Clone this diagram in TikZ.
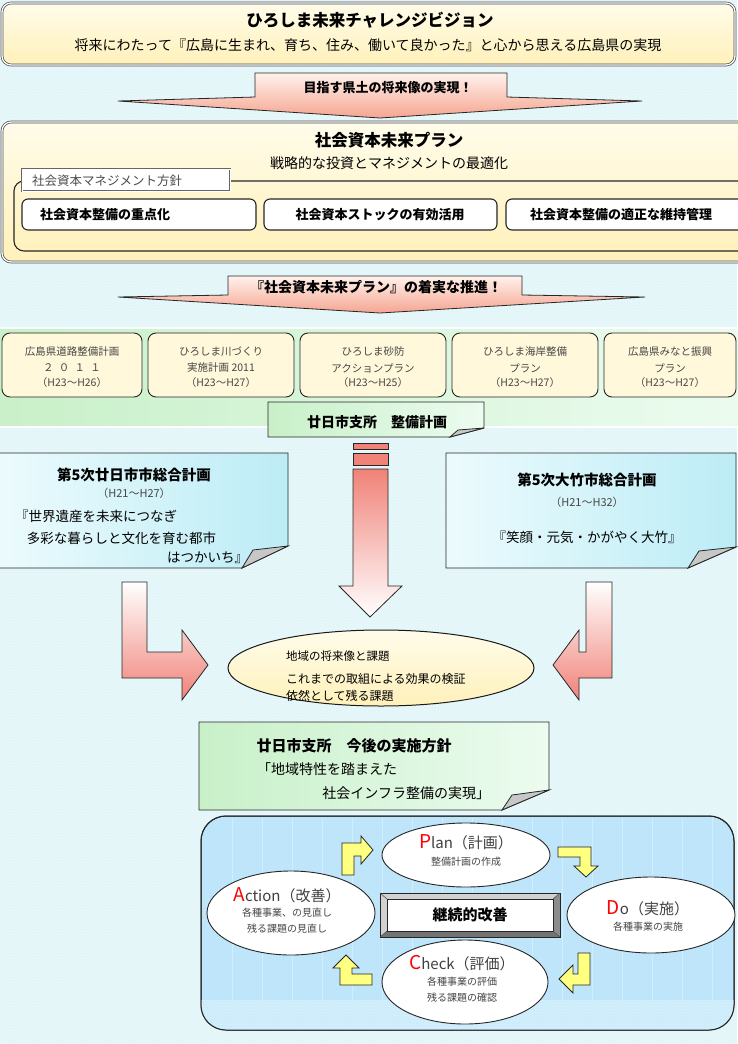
\documentclass[tikz,border=0pt]{standalone}
\usepackage{fontspec}
\setmainfont{Noto Sans CJK JP}
\usetikzlibrary{patterns,shapes.geometric}
\definecolor{bgc}{RGB}{230,247,250}
\definecolor{bgdot}{RGB}{212,238,243}
\definecolor{ylwA}{RGB}{255,252,234}
\definecolor{ylwB}{RGB}{255,241,186}
\definecolor{pinkA}{RGB}{255,242,236}
\definecolor{pinkB}{RGB}{245,165,145}
\definecolor{salm}{RGB}{240,130,120}
\definecolor{grnA}{RGB}{200,240,200}
\definecolor{grnB}{RGB}{236,252,240}
\definecolor{cyA}{RGB}{236,251,253}
\definecolor{cyB}{RGB}{188,236,246}
\definecolor{boxY}{RGB}{255,248,218}
\definecolor{panelc}{RGB}{190,229,249}
\definecolor{panell}{RGB}{208,238,252}
\definecolor{yarrc}{RGB}{255,255,128}
\definecolor{txtg}{RGB}{70,70,70}
\newcommand\fsz[1]{\fontsize{#1}{#1}\selectfont}
\tikzset{
  bigbox/.style={draw=black!70, line width=0.7pt, double=white, double distance=1.3pt,
    rounded corners=9pt, top color=ylwA, bottom color=ylwB},
  pinkarrow/.style={draw=black!85, line width=0.8pt, top color=pinkA, bottom color=pinkB},
  tabbox/.style={draw=black!60, line width=0.6pt, double=white, double distance=1pt, fill=white},
  polbox/.style={draw=black!85, line width=1.1pt, rounded corners=6pt, fill=white},
  planbox/.style={draw=black!85, line width=0.9pt, rounded corners=8pt, fill=boxY},
  greennote/.style={draw=black!85, line width=0.9pt, left color=grnA, right color=grnB},
  cyannote/.style={draw=black!85, line width=0.9pt, left color=cyA, right color=cyB},
  fold/.style={draw=black!85, line width=0.8pt, fill=black!22},
  larrow/.style={draw=black!85, line width=0.8pt, top color=white, bottom color=salm},
  cyc/.style={ellipse, draw=black!85, line width=0.9pt, fill=white},
  yarr/.style={draw=black!85, line width=0.8pt, fill=yarrc, line join=miter},
  pl/.style={font=\fsz{10.5}, text=txtg},
  sub/.style={font=\fsz{10}, text=txtg},
}
\begin{document}
\begin{tikzpicture}[x=1pt,y=-1pt, every node/.style={inner sep=0pt, outer sep=0pt}]
\useasboundingbox (0,0) rectangle (737,1044);
\fill[bgc] (0,0) rectangle (737,1044);
\fill[pattern=dots, pattern color=bgdot] (0,0) rectangle (737,1044);

% ---------- top vision box
\node (top) [bigbox, minimum width=733pt, minimum height=62pt, anchor=north west] at (2,3) {};
\node (toptitle) at (370,20) {\fsz{16.5}\bfseries ひろしま未来チャレンジビジョン};
\node (topsub) at (368,45) {\fsz{14}将来にわたって『広島に生まれ、育ち、住み、働いて良かった』と心から思える広島県の実現};

% ---------- arrow 1
\draw[pinkarrow] (255,73) -- (507,73) -- (507,97) -- (642,101) -- (380,118) -- (118,101) -- (255,97) -- cycle;
\node (a1t) at (388,88) {\fsz{13}\bfseries 目指す県土の将来像の実現！};

% ---------- social capital plan
\node (soc) [bigbox, minimum width=745pt, minimum height=140pt, anchor=north west] at (2,122) {};
\node (soctitle) at (389,140) {\fsz{16.5}\bfseries 社会資本未来プラン};
\node (socsub) at (389,163) {\fsz{14}戦略的な投資とマネジメントの最適化};
\draw[draw=black!85, line width=1.1pt, rounded corners=10pt] (14,181) rectangle (760,251);
\node (tab) [tabbox, minimum width=208pt, minimum height=22pt, anchor=north west] at (22,169) {};
\node (tabt) [anchor=west, text=black!70] at (32,180.5) {\fsz{12.5}社会資本マネジメント方針};
\node (b1) [polbox, minimum width=234pt, minimum height=31pt, anchor=north west] at (22,199) {};
\node (b2) [polbox, minimum width=233pt, minimum height=31pt, anchor=north west] at (264,199) {};
\node (b3) [polbox, minimum width=240pt, minimum height=31pt, anchor=north west] at (506,199) {};
\node (b1t) [anchor=west] at (40,215) {\fsz{13}\bfseries 社会資本整備の重点化};
\node (b2t) at (380,215) {\fsz{13}\bfseries 社会資本ストックの有効活用};
\node (b3t) at (621,215) {\fsz{13}\bfseries 社会資本整備の適正な維持管理};

% ---------- arrow 2
\draw[pinkarrow] (228,276) -- (522,276) -- (522,295) -- (645,297) -- (380,313) -- (118,297) -- (228,295) -- cycle;
\node (a2t) at (376,287) {\fsz{14}\bfseries 『社会資本未来プラン』の着実な推進！};

% ---------- green band with plans
\node (band) [draw=black!75, line width=0.7pt, double=white, double distance=1.3pt,
  left color=grnA, right color=grnB, minimum width=760pt, minimum height=99pt, anchor=north west] at (-10,328) {};
\node (p1) [planbox, minimum width=140pt, minimum height=64pt, anchor=north west] at (2,333) {};
\node (p2) [planbox, minimum width=146pt, minimum height=64pt, anchor=north west] at (148,333) {};
\node (p3) [planbox, minimum width=146pt, minimum height=64pt, anchor=north west] at (300,333) {};
\node (p4) [planbox, minimum width=146pt, minimum height=64pt, anchor=north west] at (452,333) {};
\node (p5) [planbox, minimum width=132pt, minimum height=64pt, anchor=north west] at (604,333) {};
\node (p1a) [pl] at (72,352) {広島県道路整備計画};
\node (p1b) [pl] at (72,368) {２\enspace ０\enspace １\enspace １};
\node (p1c) [pl] at (72,383) {（H23～H26）};
\node (p2a) [pl] at (221,352) {ひろしま川づくり};
\node (p2b) [pl] at (221,368) {実施計画 2011};
\node (p2c) [pl] at (221,383) {（H23～H27）};
\node (p3a) [pl] at (373,352) {ひろしま砂防};
\node (p3b) [pl] at (373,368) {アクションプラン};
\node (p3c) [pl] at (373,383) {（H23～H25）};
\node (p4a) [pl] at (525,352) {ひろしま海岸整備};
\node (p4b) [pl] at (525,368) {プラン};
\node (p4c) [pl] at (525,383) {（H23～H27）};
\node (p5a) [pl] at (670,352) {広島県みなと振興};
\node (p5b) [pl] at (670,368) {プラン};
\node (p5c) [pl] at (670,383) {（H23～H27）};

% ---------- note: seibi keikaku
\draw[greennote] (268,402) -- (484,402) -- (484,428) -- (450,437) -- (268,437) -- cycle;
\draw[fold] (450,437) -- (458,430) -- (484,428) -- cycle;
\node (g1t) at (377,422) {\fsz{14}\bfseries 廿日市支所　整備計画};

% ---------- centre arrow
\draw[draw=black!85, line width=0.8pt, fill=salm] (353,443) rectangle (388,449);
\draw[draw=black!85, line width=0.8pt, fill=salm] (353,453) rectangle (388,465);
\draw[draw=black!85, line width=0.8pt, top color=salm, bottom color=white]
  (353,469) -- (388,469) -- (388,586) -- (402,586) -- (370,617) -- (339,586) -- (353,586) -- cycle;

% ---------- left note
\draw[cyannote] (-2,453) -- (288,453) -- (288,546) -- (242,568) -- (-2,568) -- cycle;
\draw[fold] (242,568) -- (253,550) -- (288,546) -- cycle;
\node (n1t) at (134,475) {\fsz{14.5}\bfseries 第5次廿日市市総合計画};
\node (n1p) [sub] at (134,493) {\fsz{11}（H21～H27）};
\node (n1a) [anchor=west] at (15,516) {\fsz{13.5}『世界遺産を未来につなぎ};
\node (n1b) [anchor=west] at (27,538) {\fsz{13.5}多彩な暮らしと文化を育む都市};
\node (n1c) [anchor=east] at (248,558) {\fsz{13.5}はつかいち』};

% ---------- right note
\draw[cyannote] (446,453) -- (736,453) -- (736,547) -- (688,568) -- (446,568) -- cycle;
\draw[fold] (688,568) -- (699,551) -- (736,547) -- cycle;
\node (n2t) at (587,480) {\fsz{14.5}\bfseries 第5次大竹市総合計画};
\node (n2p) [sub] at (587,502) {\fsz{11}（H21～H32）};
\node (n2a) at (587,537) {\fsz{13.5}『笑顔・元気・かがやく大竹』};

% ---------- L arrows
\draw[larrow] (122,582) -- (147,582) -- (147,652) -- (182,652) -- (182,630) -- (208,665)
  -- (182,700) -- (182,678) -- (122,678) -- cycle;
\draw[larrow] (612,582) -- (586,582) -- (586,652) -- (579,652) -- (579,630) -- (553,665)
  -- (579,700) -- (579,678) -- (612,678) -- cycle;

% ---------- ellipse
\node (ell) [ellipse, draw=black!90, line width=1pt, top color=ylwA, bottom color=ylwB,
  minimum width=306pt, minimum height=76pt] at (381,668) {};
\node (e1) [anchor=west] at (286,656) {\fsz{11.5}地域の将来像と課題};
\node (e2) [anchor=west] at (286,679) {\fsz{12}これまでの取組による効果の検証};
\node (e3) [anchor=west] at (286,696) {\fsz{12}依然として残る課題};

% ---------- implementation policy note
\draw[greennote] (199,722) -- (549,722) -- (549,790) -- (502,810) -- (199,810) -- cycle;
\draw[fold] (502,810) -- (512,795) -- (549,790) -- cycle;
\node (n3t) at (354,746) {\fsz{15}\bfseries 廿日市支所　今後の実施方針};
\node (n3a) [anchor=west] at (257,769) {\fsz{14}「地域特性を踏まえた};
\node (n3b) [anchor=east] at (490,793) {\fsz{14}社会インフラ整備の実現」};

% ---------- PDCA panel
\node (panel) [draw=black!85, line width=1pt, rounded corners=25pt, fill=panelc,
  minimum width=533pt, minimum height=214pt, anchor=north west] at (201,816) {};
\begin{scope}
  \clip[rounded corners=25pt] (201,816) rectangle (734,1030);
  \foreach \x in {232,262,...,732} \draw[panell, line width=0.8pt] (\x,818) -- (\x,1000);
  \fill[panell] (201,1000) rectangle (734,1030);
  \fill[pattern=dots, pattern color=panelc] (201,1000) rectangle (734,1030);
\end{scope}
\draw[draw=black!85, line width=1pt, rounded corners=25pt] (201,816) rectangle (734,1030);

\node (pln) [cyc, minimum width=168pt, minimum height=64pt] at (466,855) {};
\node (dol) [cyc, minimum width=168pt, minimum height=76pt] at (651,915) {};
\node (chk) [cyc, minimum width=166pt, minimum height=84pt] at (465,982) {};
\node (act) [cyc, minimum width=168pt, minimum height=84pt] at (291,913) {};

\node (plt) at (466,842) {\fsz{15}\textcolor{red}{\fsz{19}P}\textcolor{black!75}{lan（計画）}};
\node (pls) [sub] at (466,862) {整備計画の作成};
\node (dot) at (648,908) {\fsz{15}\textcolor{red}{\fsz{19}D}\textcolor{black!75}{o（実施）}};
\node (dos) [sub] at (648,927) {各種事業の実施};
\node (ckt) at (462,963) {\fsz{15}\textcolor{red}{\fsz{19}C}\textcolor{black!75}{heck（評価）}};
\node (cks1) [sub] at (462,982) {各種事業の評価};
\node (cks2) [sub] at (462,998) {残る課題の確認};
\node (act1) at (287,895) {\fsz{15}\textcolor{red}{\fsz{19}A}\textcolor{black!75}{ction（改善）}};
\node (acs1) [sub] at (287,913) {各種事業、の見直し};
\node (acs2) [sub] at (287,929) {残る課題の見直し};

% centre bevel box
\fill[black!18] (380,893) rectangle (560,937);
\fill[black!55] (380,937) -- (387,931) -- (553,931) -- (560,937) -- cycle;
\fill[black!45] (560,893) -- (553,899) -- (553,931) -- (560,937) -- cycle;
\draw[black!85, line width=0.8pt] (380,893) rectangle (560,937);
\node (kz) [draw=black!85, line width=0.6pt, fill=white, minimum width=166pt, minimum height=32pt, anchor=north west] at (387,899) {};
\node (kzt) at (470,915) {\fsz{15}\bfseries 継続的改善};
\draw[black!70, line width=0.5pt] (380,893) -- (387,899) (560,893) -- (553,899) (380,937) -- (387,931) (560,937) -- (553,931);

% yellow cycle arrows
\draw[yarr] (342,875) -- (342,843) -- (361,843) -- (361,836) -- (373,850) -- (361,864) -- (361,856) -- (354,856) -- (354,875) -- cycle;
\draw[yarr] (558,847) -- (591,847) -- (591,866) -- (598,866) -- (586,877) -- (574,866) -- (580,866) -- (580,857) -- (558,857) -- cycle;
\draw[yarr] (590,953) -- (590,985) -- (573,985) -- (573,993) -- (559,979) -- (573,965) -- (573,974) -- (578,974) -- (578,953) -- cycle;
\draw[yarr] (372,985) -- (340,985) -- (340,968) -- (333,968) -- (346,955) -- (359,968) -- (352,968) -- (352,974) -- (372,974) -- cycle;
\end{tikzpicture}
\end{document}
